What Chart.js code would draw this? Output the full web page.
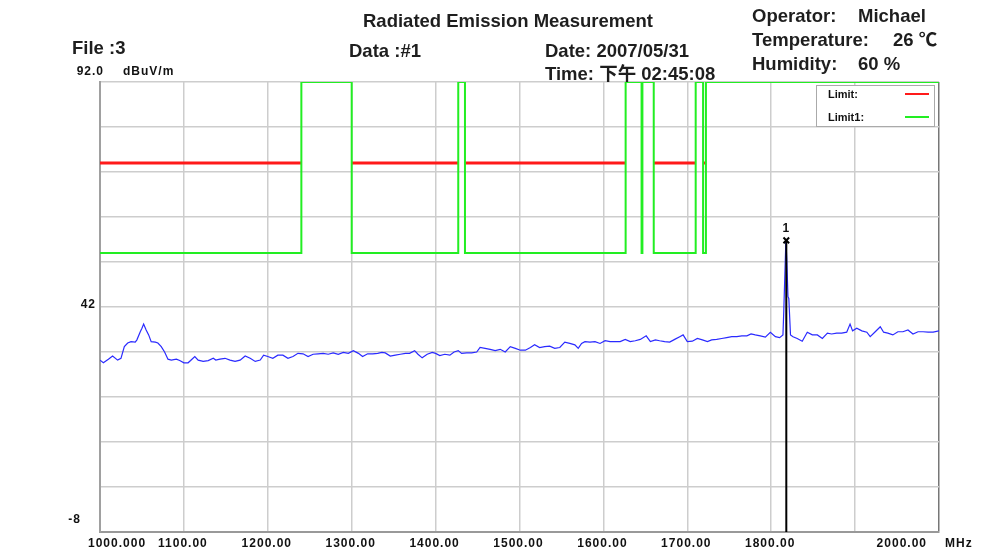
<!DOCTYPE html>
<html>
<head>
<meta charset="utf-8">
<script src="https://cdn.jsdelivr.net/npm/chart.js@4.4.0/dist/chart.umd.min.js"></script>
<style>
    body { margin: 0; background: #fff; }
    #wrap { position: relative; width: 993px; height: 554px; overflow: hidden; }
    #myChart { position: absolute; left: 0; top: 0; }
    .hd {
        position: absolute;
        font-family: "Liberation Sans", Arial, "Noto Sans CJK TC", sans-serif;
        font-weight: bold;
        font-size: 18.5px;
        line-height: 18.5px;
        color: #1e1e1e;
        white-space: nowrap;
    }
    .hd .v { position: absolute; }
</style>
</head>
<body>
<div id="wrap">
    <canvas id="myChart" width="993" height="554"></canvas>
    <div class="hd" style="left:363px;top:11.7px">Radiated Emission Measurement</div>
    <div class="hd" style="left:72px;top:38.7px">File :3</div>
    <div class="hd" style="left:349px;top:41.7px">Data :#1</div>
    <div class="hd" style="left:545px;top:41.7px">Date: 2007/05/31</div>
    <div class="hd" style="left:545px;top:64.7px">Time: 下午 02:45:08</div>
    <div class="hd" style="left:752px;top:6.7px">Operator:<span class="v" style="left:106px">Michael</span></div>
    <div class="hd" style="left:752px;top:30.7px">Temperature:<span class="v" style="left:141px">26 ℃</span></div>
    <div class="hd" style="left:752px;top:54.7px">Humidity:<span class="v" style="left:106px">60 %</span></div>
</div>

<script>
// axes
const xTickValues = [1000, 1100, 1200, 1300, 1400, 1500, 1600, 1700, 1800, 1900, 2000]
const xTickLabels = ['1000.000', '1100.00', '1200.00', '1300.00', '1400.00', '1500.00', '1600.00', '1700.00', '1800.00', '', '2000.00']
const yGridValues = [-8, 2, 12, 22, 32, 42, 52, 62, 72, 82, 92]
const yLabelValues = [92, 42, -8]
const yLabelTexts = ['92.0', '42', '-8']

// limit lines: value holds from an edge to the next one (MHz)
const limitEdges = [1000, 1240, 1300, 1427, 1435, 1626.5, 1645.5, 1646.5, 1660, 1710, 1718.8, 1722.2, 2000]
const limitPeak = [74, null, 74, null, 74, null, 74, null, 74, null, 74, null, null]
const limitAvg = [54, 92, 54, 92, 54, 92, 54, 92, 54, 92, 54, 92, 92]

const traceFreq = [1000, 1004, 1010, 1015, 1021, 1025, 1029, 1033, 1037, 1042, 1044, 1048, 1050, 1052, 1055, 1058, 1061, 1066, 1069, 1073,
    1077, 1081, 1085, 1091, 1095, 1100, 1105, 1108, 1113, 1117, 1123, 1129, 1135, 1138, 1143, 1149, 1155, 1161, 1167, 1173,
    1179, 1185, 1191, 1195, 1200, 1206, 1212, 1218, 1224, 1230, 1236, 1242, 1248, 1254, 1260, 1266, 1272, 1278, 1284, 1290,
    1296, 1302, 1308, 1313, 1319, 1325, 1331, 1336, 1340, 1346, 1352, 1358, 1364, 1369, 1375, 1379, 1384, 1390, 1396, 1400,
    1405, 1411, 1417, 1422, 1427, 1431, 1437, 1443, 1449, 1453, 1459, 1465, 1471, 1477, 1483, 1489, 1495, 1501, 1507, 1513,
    1518, 1524, 1530, 1536, 1542, 1548, 1554, 1560, 1566, 1570, 1574, 1578, 1584, 1590, 1596, 1602, 1608, 1614, 1620, 1626,
    1632, 1638, 1644, 1651, 1656, 1662, 1667, 1673, 1679, 1685, 1691, 1695, 1700, 1706, 1712, 1718, 1724, 1729, 1735, 1741,
    1747, 1753, 1759, 1765, 1771, 1776, 1781, 1787, 1793, 1799, 1805, 1810, 1814, 1815, 1817.5, 1818.5, 1820, 1821, 1823, 1826,
    1831, 1837, 1843, 1849, 1855, 1861, 1867, 1872, 1878, 1884, 1890, 1894, 1897, 1902, 1908, 1914, 1918, 1924, 1930, 1934,
    1939, 1945, 1951, 1957, 1963, 1969, 1975, 1981, 1987, 1993, 2000]
const traceLevel = [30.2, 29.6, 30.4, 31.1, 30.2, 30.6, 33.2, 34.0, 34.3, 34.2, 34.7, 36.5, 37.3, 38.2, 36.9, 35.8, 34.3, 34.2, 34.0, 33.2,
    32.0, 30.4, 30.2, 30.4, 30.1, 29.6, 29.6, 30.1, 31.0, 30.2, 29.9, 30.1, 30.6, 30.2, 30.4, 30.6, 30.2, 29.9, 30.2, 31.1,
    30.6, 29.9, 30.2, 31.3, 31.0, 30.6, 31.3, 31.3, 30.6, 31.0, 31.7, 31.6, 31.0, 31.5, 31.6, 31.7, 31.5, 31.8, 31.5, 31.9,
    31.7, 32.3, 31.7, 31.0, 31.6, 31.6, 31.7, 31.9, 31.8, 31.1, 31.3, 31.5, 31.7, 31.7, 32.3, 31.5, 30.7, 31.5, 31.9, 31.7,
    31.2, 31.5, 31.3, 32.0, 32.3, 31.7, 31.8, 31.8, 32.0, 33.0, 32.8, 32.6, 32.3, 32.6, 32.0, 33.2, 32.8, 32.4, 32.4, 33.0,
    33.6, 33.0, 33.2, 33.3, 32.8, 33.0, 34.2, 33.9, 33.6, 32.8, 33.9, 34.3, 34.2, 34.3, 33.9, 34.5, 34.3, 34.3, 34.3, 34.8,
    34.3, 34.5, 34.8, 35.6, 34.3, 34.7, 34.5, 34.3, 34.2, 34.8, 35.4, 35.8, 34.3, 34.4, 35.0, 34.7, 34.3, 34.7, 34.8, 35.0,
    35.2, 35.4, 35.4, 35.6, 35.6, 36.0, 35.8, 35.6, 35.3, 36.4, 35.4, 35.2, 35.8, 41.1, 56.8, 52.9, 44.3, 43.9, 35.8, 35.4,
    35.0, 34.4, 36.4, 35.8, 35.8, 35.0, 36.2, 36.0, 36.2, 36.2, 36.4, 38.2, 36.7, 37.3, 36.7, 36.4, 35.4, 36.5, 37.6, 36.4,
    36.2, 35.8, 36.5, 36.5, 36.9, 36.0, 36.5, 36.5, 36.4, 36.4, 36.7]

// marker 1
const markerFreq = [1818]
const markerLevel = [56.8]
const markerNames = ['1']

const lblFont = 'bold 12px "Liberation Sans", Arial, sans-serif'

const textPlugin = {
    id: 'textPlugin',
    afterDraw(chart) {
        const ctx = chart.ctx
        const xs = chart.scales.x, ys = chart.scales.y
        ctx.save()
        ctx.fillStyle = '#111'
        ctx.font = lblFont
        ctx.letterSpacing = '1px'
        ctx.textBaseline = 'alphabetic'

        // x tick labels
        xTickValues.forEach((v, i) => {
            let px = xs.getPixelForValue(v)
            if (i == 0) { ctx.textAlign = 'left'; ctx.fillText(xTickLabels[i], px - 12, 547) }
            else if (i == xTickValues.length - 1) { ctx.textAlign = 'right'; ctx.fillText(xTickLabels[i], px - 12, 547) }
            else { ctx.textAlign = 'center'; ctx.fillText(xTickLabels[i], px - 1, 547) }
        })
        ctx.textAlign = 'left'
        ctx.fillText('MHz', 945, 547)

        // y labels, each sits a bit differently in the original
        const yPos = [[104, -7], [96, 1], [81, -9]]
        ctx.textAlign = 'right'
        yLabelValues.forEach((v, i) => {
            ctx.fillText(yLabelTexts[i], yPos[i][0], ys.getPixelForValue(v) + yPos[i][1])
        })
        ctx.textAlign = 'left'
        ctx.fillText('dBuV/m', 123, 75)

        // marker number
        ctx.textAlign = 'center'
        markerFreq.forEach((f, i) => {
            ctx.fillText(markerNames[i], xs.getPixelForValue(f), ys.getPixelForValue(markerLevel[i]) - 8)
        })

        // legend box
        ctx.letterSpacing = '0px'
        ctx.font = 'bold 11px "Liberation Sans", Arial, sans-serif'
        ctx.fillStyle = '#fff'
        ctx.fillRect(816, 85, 118, 42)
        ctx.strokeStyle = '#aaa'
        ctx.lineWidth = 1
        ctx.strokeRect(816.5, 85.5, 118, 41)
        const legendSets = [chart.data.datasets[3], chart.data.datasets[2]]
        legendSets.forEach((ds, i) => {
            let yy = 94 + i * 23
            ctx.fillStyle = '#111'
            ctx.textAlign = 'left'
            ctx.fillText(ds.label + ':', 828, yy + 4)
            ctx.strokeStyle = ds.borderColor
            ctx.lineWidth = 2
            ctx.beginPath()
            ctx.moveTo(905, yy)
            ctx.lineTo(929, yy)
            ctx.stroke()
        })
        ctx.restore()
    }
}

const pts = (xsArr, ysArr) => xsArr.map((v, i) => ({ x: v, y: ysArr[i] }))

// flat pieces only, broken where the limit is off the chart
function bandPoints(values) {
    let out = []
    for (let i = 0; i < limitEdges.length - 1; i++) {
        if (values[i] == null) continue
        out.push({ x: limitEdges[i], y: values[i] }, { x: limitEdges[i + 1], y: values[i] }, { x: limitEdges[i + 1], y: null })
    }
    return out
}

const ctx = document.getElementById('myChart').getContext('2d')
const myChart = new Chart(ctx, {
    type: 'line',
    data: {
        datasets: [
            {
                label: 'Marker',
                data: [{ x: markerFreq[0], y: markerLevel[0] }, { x: markerFreq[0], y: -8 }],
                borderColor: '#000',
                borderWidth: 2,
                pointStyle: 'crossRot',
                pointRadius: [4, 0],
                pointBorderWidth: 2,
                pointBorderColor: '#000'
            },
            {
                label: 'Trace',
                data: pts(traceFreq, traceLevel),
                borderColor: '#2a2aff',
                borderWidth: 1.2,
                pointRadius: 0
            },
            {
                label: 'Limit1',
                data: pts(limitEdges, limitAvg),
                borderColor: '#22ee22',
                borderWidth: 2,
                stepped: true,
                pointRadius: 0
            },
            {
                label: 'Limit',
                data: bandPoints(limitPeak),
                borderColor: '#ff1a1a',
                borderWidth: 3,
                spanGaps: false,
                pointRadius: 0
            }
        ]
    },
    options: {
        responsive: false,
        animation: false,
        devicePixelRatio: 1,
        layout: { padding: { left: 100, right: 54, top: 82, bottom: 22 } },
        plugins: { legend: { display: false }, tooltip: { enabled: false }, title: { display: false } },
        scales: {
            x: {
                type: 'linear',
                min: 1000,
                max: 2000,
                ticks: { display: false, stepSize: 100 },
                afterBuildTicks: (s) => { s.ticks = xTickValues.map(v => ({ value: v })) },
                grid: {
                    drawTicks: false,
                    lineWidth: 1.5,
                    color: (c) => c.tick && c.tick.value == 2000 ? '#777' : '#cdcdcd'
                },
                border: { display: true, color: '#999', width: 2 }
            },
            y: {
                min: -8,
                max: 92,
                ticks: { display: false },
                afterBuildTicks: (s) => { s.ticks = yGridValues.map(v => ({ value: v })) },
                grid: { drawTicks: false, lineWidth: 1.5, color: '#cdcdcd' },
                border: { display: true, color: '#a0a0a0', width: 2 }
            }
        }
    },
    plugins: [textPlugin]
})
</script>
</body>
</html>
